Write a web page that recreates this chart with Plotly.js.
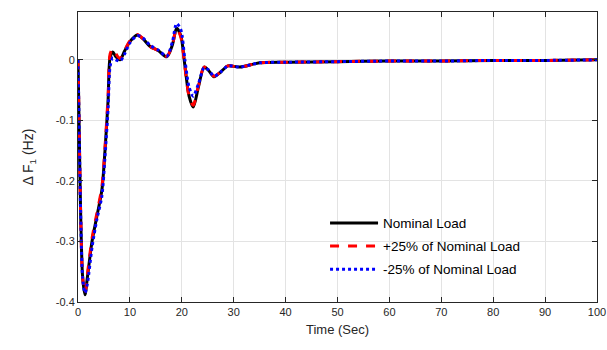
<!DOCTYPE html>
<html><head><meta charset="utf-8">
<script src="https://cdn.plot.ly/plotly-3.0.1.min.js"></script>
<style>body{margin:0;background:#fff}#c{width:607px;height:350px}</style>
</head><body><div id="c"></div>
<script>
var tNom = [0, 0.2, 0.5, 0.9, 1.35, 1.8, 2.7, 3.6, 4.6, 5.2, 5.8, 6.2, 6.7, 7.3, 8.1, 9, 10, 11.4, 12.5, 13.9, 15.5, 17.1, 18.2, 19.0, 19.8, 20.6, 21.4, 22.2, 23.2, 24.3, 25.2, 26.2, 27.5, 28.9, 31.2, 35, 40, 50, 60, 70, 80, 90, 100];
var nominal = [0, -0.1, -0.25, -0.36, -0.388, -0.36, -0.30, -0.26, -0.215, -0.15, -0.066, 0.005, 0.013, 0.005, 0.0, 0.015, 0.03, 0.041, 0.035, 0.022, 0.015, 0.005, 0.025, 0.052, 0.04, -0.01, -0.06, -0.078, -0.045, -0.012, -0.018, -0.028, -0.02, -0.01, -0.012, -0.005, -0.004, -0.003, -0.002, -0.002, -0.001, -0.001, 0];
var plus25 = [0, -0.1, -0.25, -0.36, -0.385, -0.355, -0.295, -0.255, -0.21, -0.145, -0.06, 0.01, 0.018, 0.01, 0.002, 0.016, 0.031, 0.042, 0.035, 0.022, 0.015, 0.006, 0.026, 0.052, 0.038, -0.012, -0.06, -0.075, -0.043, -0.012, -0.018, -0.027, -0.02, -0.01, -0.012, -0.005, -0.004, -0.003, -0.002, -0.002, -0.001, -0.001, 0];
var minus25 = [0, -0.1, -0.25, -0.36, -0.385, -0.37, -0.31, -0.265, -0.225, -0.16, -0.08, -0.01, 0.003, 0.0, -0.002, 0.01, 0.028, 0.040, 0.036, 0.024, 0.016, 0.006, 0.03, 0.06, 0.05, 0.0, -0.045, -0.06, -0.04, -0.013, -0.017, -0.027, -0.02, -0.01, -0.012, -0.005, -0.004, -0.003, -0.002, -0.002, -0.001, -0.001, 0];
var xTicks = [0,10,20,30,40,50,60,70,80,90,100];
var yTicks = [-0.4,-0.3,-0.2,-0.1,0];
var names = ['Nominal Load', '+25% of Nominal Load', '-25% of Nominal Load'];

var traces = [
  {x: tNom, y: nominal, name: names[0], legendgroup: 'a', mode: 'lines', line: {color: '#000000', width: 3, shape: 'spline', smoothing: 0.8}},
  {x: tNom, y: plus25, name: names[1], legendgroup: 'b', mode: 'lines', line: {color: '#ff0000', width: 3, dash: 'dash', shape: 'spline', smoothing: 0.8}},
  {x: tNom, y: minus25, name: names[2], legendgroup: 'c', mode: 'lines', line: {color: '#0000ff', width: 3, dash: 'dot', shape: 'spline', smoothing: 0.8}}
];
var axisCommon = {showline: true, mirror: 'ticks', linecolor: '#262626', linewidth: 1, ticks: 'inside', ticklen: 5, tickcolor: '#262626', showgrid: true, gridcolor: '#e3e3e3', zeroline: false, tickfont: {family: 'Arial, Liberation Sans', size: 11, color: '#262626'}};
var layout = {
  width: 607, height: 350,
  margin: {l: 78, r: 10, t: 12, b: 48},
  paper_bgcolor: '#fff', plot_bgcolor: '#fff',
  showlegend: true,
  legend: {x: 0.476, y: 0.325, xanchor: 'left', yanchor: 'top', itemwidth: 48, tracegroupgap: 2.5, bgcolor: 'rgba(0,0,0,0)', font: {family: 'Arial, Liberation Sans', size: 13.5, color: '#000'}},
  xaxis: Object.assign({}, axisCommon, {range: [0, 100], tickvals: xTicks, title: {text: 'Time (Sec)', font: {family: 'Arial, Liberation Sans', size: 13, color: '#262626'}, standoff: 7}}),
  yaxis: Object.assign({}, axisCommon, {range: [-0.4, 0.079], tickvals: yTicks, ticktext: yTicks.map(String), title: {text: 'Δ F<sub>1</sub> (Hz)', font: {family: 'Arial, Liberation Sans', size: 14, color: '#262626'}, standoff: 18}})
};
Plotly.newPlot('c', traces, layout, {displayModeBar: false, staticPlot: true});
</script></body></html>
